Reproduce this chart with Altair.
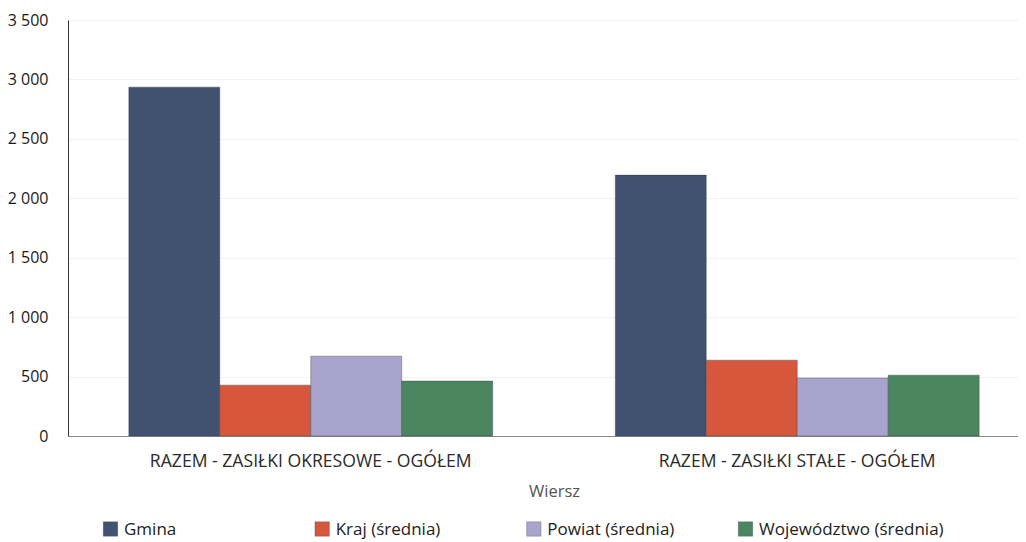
import altair as alt
import pandas as pd

categories = ["RAZEM -  ZASIŁKI OKRESOWE - OGÓŁEM", "RAZEM -  ZASIŁKI STAŁE - OGÓŁEM"]
series = ["Gmina", "Kraj (średnia)", "Powiat (średnia)", "Województwo (średnia)"]
values = {
    "Gmina": [2935, 2195],
    "Kraj (średnia)": [428, 638],
    "Powiat (średnia)": [672, 488],
    "Województwo (średnia)": [462, 512],
}
colors = ["#415270", "#d6573c", "#a9a4cc", "#4b8660"]

rows = []
for s in series:
    for c, v in zip(categories, values[s]):
        rows.append({"Wiersz": c, "Seria": s, "Wartość": v})
df = pd.DataFrame(rows)
legend_df = pd.DataFrame({"Seria": series})

FONT = "Open Sans"
color_scale = alt.Scale(domain=series, range=colors)

bars = alt.Chart(df).mark_bar(stroke="#2a3445", strokeWidth=0.8, strokeOpacity=0.45).encode(
    x=alt.X("Wiersz:N", sort=categories,
            scale=alt.Scale(paddingInner=0.252, paddingOuter=0.125, range=[0, 972]),
            axis=alt.Axis(title="Wiersz", labelAngle=0, labelFontSize=17.6, labelColor="#2a2a2a",
                          labelPadding=16, ticks=False, domainColor="#8a8a8a", domainWidth=1.2,
                          titleFontSize=16.5, titleColor="#555555", titleFontWeight="normal",
                          titlePadding=14, labelFont=FONT, titleFont=FONT, labelLimit=500)),
    xOffset=alt.XOffset("Seria:N", sort=series, scale=alt.Scale(paddingInner=0, paddingOuter=0)),
    y=alt.Y("Wartość:Q", scale=alt.Scale(domain=[0, 3500], nice=False),
            axis=alt.Axis(title=None, values=[0, 500, 1000, 1500, 2000, 2500, 3000, 3500],
                          labelExpr="replace(format(datum.value, ',d'), ',', ' ')",
                          labelFontSize=16, labelColor="#1a1a1a", labelPadding=20, ticks=False,
                          domainColor="#333333", domainWidth=1, grid=True, gridColor="#f2f2f2",
                          labelFont=FONT)),
    color=alt.Color("Seria:N", sort=series, scale=color_scale, legend=None),
)

legend_x = alt.X("Seria:N", sort=series,
                 scale=alt.Scale(type="point", range=[42.5, 677.5], padding=0), axis=None)

legend_sq = alt.Chart(legend_df).mark_square(size=210, opacity=1, stroke="#333344",
                                              strokeWidth=0.5, strokeOpacity=0.5).encode(
    x=legend_x,
    y=alt.value(509),
    color=alt.Color("Seria:N", sort=series, scale=color_scale, legend=None),
)

legend_txt = alt.Chart(legend_df).mark_text(align="left", baseline="middle", dx=13.5, dy=1,
                                            fontSize=17, font=FONT, color="#222222").encode(
    x=legend_x,
    y=alt.value(509),
    text="Seria:N",
)

chart = alt.layer(bars, legend_sq, legend_txt).resolve_scale(x="independent").properties(
    width=950, height=416,
    autosize=alt.AutoSizeParams(type="none"),
    padding={"left": 60, "top": 12, "right": 0, "bottom": 106},
).configure_view(stroke=None).configure(background="white")

chart.save("out.html", embed_options={"renderer": "svg", "actions": False})
